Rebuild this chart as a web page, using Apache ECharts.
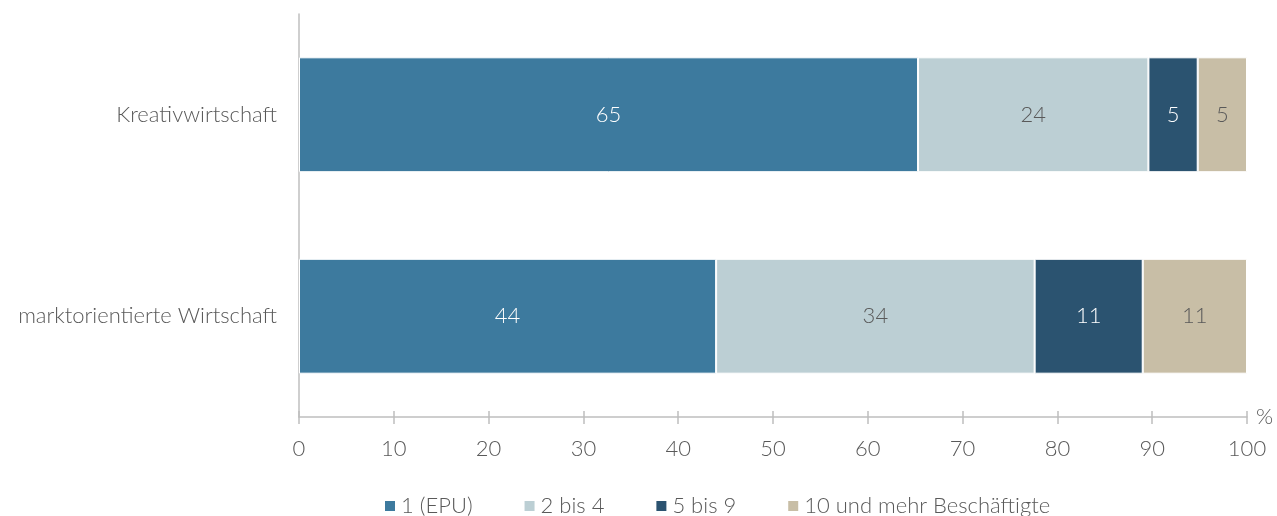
<!DOCTYPE html>
<html>
<head>
<meta charset="utf-8">
<script src="https://cdn.jsdelivr.net/npm/echarts@6/dist/echarts.min.js"></script>
<style>
  html, body { margin: 0; padding: 0; background: #fff; }
  #chart { width: 1277px; height: 516px; }
</style>
</head>
<body>
<div id="chart"></div>
<script>
  // categories top to bottom
  const categories = ['Kreativwirtschaft', 'marktorientierte Wirtschaft']
  const seriesNames = ['1 (EPU)', '2 bis 4', '5 bis 9', '10 und mehr Beschäftigte']
  // shares in %, per category (same order as categories)
  const epu = [65.3, 44.0]
  const twoToFour = [24.3, 33.6]
  const fiveToNine = [5.2, 11.4]
  const tenPlus = [5.2, 11.0]
  const xTicks = [0, 10, 20, 30, 40, 50, 60, 70, 80, 90, 100]

  const colors = ['#3d7a9e', '#bccfd4', '#2b5370', '#c8bea6']
  const labelColors = ['#ffffff', '#595959', '#ffffff', '#595959']
  const font = 'Lato, "Open Sans", sans-serif'
  const txt = { color: '#595959', fontSize: 22, fontWeight: 300, fontFamily: font }

  const chart = echarts.init(document.getElementById('chart'))

  const mkSeries = (name, data, i) => ({
    name,
    type: 'bar',
    stack: 'total',
    data,
    barWidth: '57%',
    itemStyle: { color: colors[i], borderColor: '#fff', borderWidth: 1 },
    label: {
      show: true,
      position: 'inside',
      ...txt,
      color: labelColors[i],
      formatter: p => Math.round(p.value)
    }
  })

  const axisBase = {
    type: 'value',
    min: xTicks[0],
    max: xTicks[xTicks.length - 1],
    interval: 10,
    splitLine: { show: false }
  }

  const option = {
    animation: false,
    textStyle: { fontFamily: font },
    grid: { left: 299, right: 30, top: 14, bottom: 99 },
    legend: {
      bottom: -6,
      left: 378,
      itemWidth: 12,
      itemHeight: 12,
      itemGap: 50,
      icon: 'rect',
      textStyle: txt
    },
    xAxis: [
      {
        ...axisBase,
        name: '%',
        nameGap: 9,
        nameTextStyle: { ...txt, verticalAlign: 'middle', padding: [0, 0, 4, 0] },
        axisLine: { show: true, lineStyle: { color: '#bfbfbf', width: 1.5 } },
        axisTick: { show: true, length: 7, lineStyle: { color: '#bfbfbf', width: 1.5 } },
        axisLabel: { ...txt, margin: 21 }
      },
      {
        ...axisBase,
        position: 'bottom',
        axisLine: { show: false },
        axisTick: { show: true, inside: true, length: 6, lineStyle: { color: '#bfbfbf', width: 1.5 } },
        axisLabel: { show: false }
      }
    ],
    yAxis: {
      type: 'category',
      data: categories,
      inverse: true,
      axisLine: { show: true, lineStyle: { color: '#bfbfbf', width: 1.5 } },
      axisTick: { show: false },
      axisLabel: { ...txt, margin: 22 }
    },
    series: [
      mkSeries(seriesNames[0], epu, 0),
      mkSeries(seriesNames[1], twoToFour, 1),
      mkSeries(seriesNames[2], fiveToNine, 2),
      mkSeries(seriesNames[3], tenPlus, 3)
    ]
  }

  chart.setOption(option)
  window.addEventListener('resize', () => {
    chart.resize()
  })
</script>
</body>
</html>
